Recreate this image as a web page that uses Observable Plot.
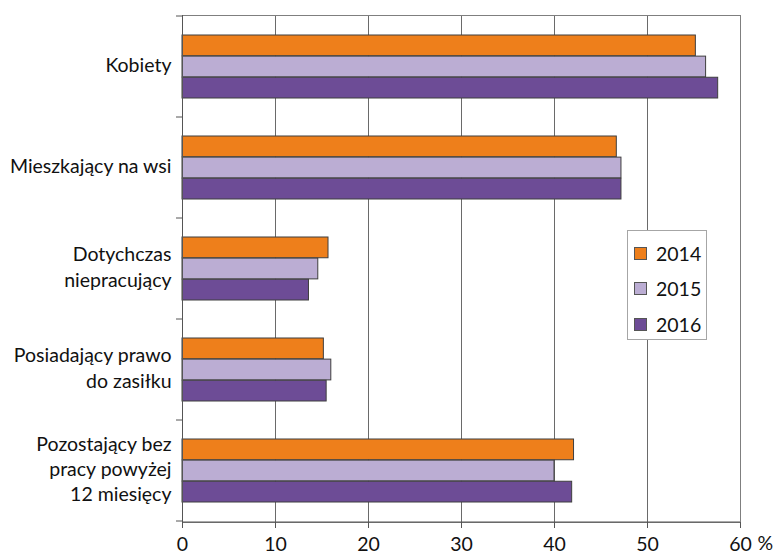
<!DOCTYPE html>
<html><head><meta charset="utf-8">
<script src="https://cdn.jsdelivr.net/npm/d3@7"></script>
<script src="https://cdn.jsdelivr.net/npm/@observablehq/plot@0.6"></script>
<style>
body{margin:0;background:#fff;font-family:Lato,sans-serif;}
#wrap{position:relative;width:774px;height:559px;}
.legend{position:absolute;left:627px;top:230px;width:80px;height:110px;border:1px solid #a6a6a6;background:#fff;box-sizing:border-box;}
.legend .row{position:absolute;left:6px;height:24px;display:flex;align-items:center;font-size:19.5px;color:#111;}
.legend .sw{width:11px;height:11px;border:1px solid #555;margin-right:9px;}
</style>
</head><body><div id="wrap"></div>
<script>
const categories = ["Kobiety", "Mieszkający na wsi", "Dotychczas\nniepracujący", "Posiadający prawo\ndo zasiłku", "Pozostający bez\npracy powyżej\n12 miesięcy"];
const years = ["2014", "2015", "2016"];
const v2014 = [55.2, 46.7, 15.7, 15.2, 42.1];
const v2015 = [56.3, 47.2, 14.6, 16.0, 40.0];
const v2016 = [57.6, 47.2, 13.6, 15.5, 41.9];
const colors = ["#EE7F1B", "#BBADD3", "#6D4C96"];
const xTicks = [0, 10, 20, 30, 40, 50, 60];
const unitLabel = "%";

const series = [v2014, v2015, v2016];
const rows = [];
years.forEach((yr, i) => categories.forEach((c, j) => rows.push({cat: c, year: yr, value: series[i][j]})));

const W = 774, H = 559, mL = 182, mR = 34, mT = 15, mB = 37;
const pIn = 0.375, pOut = 0.1875;
const step = (H - mT - mB) / (categories.length - pIn + 2 * pOut);
const bh = step * (1 - pIn) / years.length;
const FS = 19.5;

const plot = Plot.plot({
  width: W, height: H,
  marginLeft: mL, marginRight: mR, marginTop: mT, marginBottom: mB,
  style: {fontFamily: "Lato, sans-serif", fontSize: FS + "px", color: "#111", background: "#fff"},
  x: {domain: [0, 60]},
  y: {domain: categories, paddingInner: pIn, paddingOuter: pOut},
  color: {domain: years, range: colors},
  marks: [
    Plot.gridX(xTicks, {stroke: "#6a6a6a", strokeOpacity: 1}),
    ...years.map((yr, i) => Plot.barX(rows.filter(r => r.year === yr), {
      x: "value", y: "cat", fill: "year", stroke: "#3f3f3f", strokeWidth: 1,
      insetTop: i * bh, insetBottom: (years.length - 1 - i) * bh
    })),
    Plot.frame({stroke: "#7f7f7f"}),
    Plot.ruleX([0], {stroke: "#555"}),
    Plot.axisX({ticks: xTicks, tickSize: 6, tickPadding: 9, fontSize: FS, label: null, stroke: "#555"}),
    Plot.axisY({tickSize: 0, tickPadding: 11, fontSize: FS, lineHeight: 1.3, dy: -3, label: null}),
    Plot.text([unitLabel], {frameAnchor: "bottom-right", textAnchor: "start", dx: 17, dy: 27, fontSize: FS})
  ]
});

// bottom axis line and band-boundary ticks on the left axis, from the plot's y scale
const ys = plot.scale("y");
const half = (ys.step - ys.bandwidth) / 2;
const bounds = categories.map(c => ys.apply(c) - half);
bounds.push(ys.apply(categories[categories.length - 1]) + ys.bandwidth + half);
const svg = d3.select(plot);
svg.append("g").selectAll("line").data(bounds).join("line")
  .attr("x1", mL - 6).attr("x2", mL).attr("y1", d => d).attr("y2", d => d)
  .attr("stroke", "#555");
svg.append("line").attr("x1", mL).attr("x2", W - mR).attr("y1", H - mB).attr("y2", H - mB).attr("stroke", "#555");

const wrap = document.getElementById("wrap");
wrap.appendChild(plot);

const leg = document.createElement("div");
leg.className = "legend";
years.forEach((yr, i) => {
  const r = document.createElement("div");
  r.className = "row";
  r.style.top = (10 + i * 35.5) + "px";
  const sw = document.createElement("span");
  sw.className = "sw";
  sw.style.background = colors[i];
  r.appendChild(sw);
  r.appendChild(document.createTextNode(yr));
  leg.appendChild(r);
});
wrap.appendChild(leg);
</script></body></html>
